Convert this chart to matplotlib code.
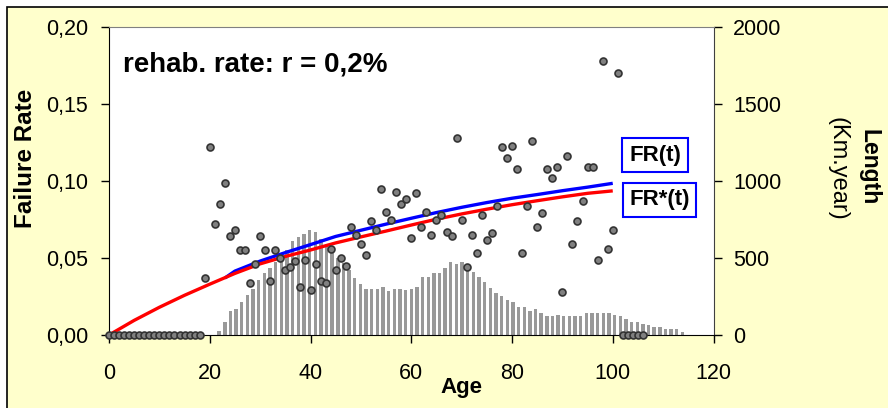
"""
Failure rate vs age for the network, with rehabilitation rate r = 0.2%.
Scatter = observed failure rate per age, curves = FR(t) and FR*(t),
grey bars = pipe length per age class (secondary axis).
"""

import numpy as np
import matplotlib
matplotlib.use("Agg")
import matplotlib.pyplot as plt
from matplotlib.patches import Rectangle

plt.rcParams["font.family"] = ["Liberation Sans", "DejaVu Sans"]

# --- observed failure rate per age ---
obs_age = np.arange(0, 107)
obs_fr = [0.0] * 19 + [
    0.037, 0.122, 0.072, 0.085, 0.099, 0.064, 0.068, 0.055, 0.055, 0.034,
    0.046, 0.064, 0.055, 0.035, 0.055, 0.050, 0.042, 0.044, 0.048, 0.031,
    0.049, 0.029, 0.046, 0.035, 0.034, 0.056, 0.042, 0.050, 0.045, 0.070,
    0.065, 0.059, 0.052, 0.074, 0.068, 0.095, 0.080, 0.075, 0.093, 0.085,
    0.088, 0.063, 0.092, 0.070, 0.080, 0.065, 0.075, 0.078, 0.067, 0.064,
    0.128, 0.075, 0.044, 0.065, 0.053, 0.078, 0.062, 0.066, 0.084, 0.122,
    0.115, 0.123, 0.108, 0.053, 0.084, 0.126, 0.070, 0.079, 0.108, 0.102,
    0.109, 0.028, 0.116, 0.059, 0.074, 0.087, 0.109, 0.109, 0.049, 0.178,
    0.056, 0.068, 0.170,
] + [0.0] * 5

# --- model curves ---
frs_age = [0, 5, 10, 15, 20, 25, 30, 35, 40, 45, 50, 55, 60, 65, 70, 75, 80, 85, 90, 95, 100]
frs_val = [0.000, 0.0095, 0.0180, 0.0258, 0.033, 0.040, 0.0462, 0.051, 0.0552, 0.0598, 0.0637,
           0.0675, 0.0714, 0.0752, 0.0786, 0.0817, 0.0846, 0.0872, 0.0897, 0.0920, 0.0936]
fr_age = [23, 25, 30, 35, 40, 45, 50, 55, 60, 65, 70, 75, 80, 85, 90, 95, 100]
fr_val = [0.037, 0.0415, 0.048, 0.0535, 0.0587, 0.0640, 0.0680, 0.0720, 0.0758, 0.0795,
          0.0829, 0.0860, 0.0888, 0.0912, 0.0937, 0.0960, 0.0985]

# --- length per age class (secondary category axis, 107 classes) ---
n_classes = 107
len_class = np.arange(19, 102)
len_km = [
    27, 85, 158, 169, 214, 262, 297, 354, 402, 438,
    477, 514, 550, 611, 635, 658, 682, 669, 624, 585,
    542, 499, 466, 423, 367, 332, 298, 298, 298, 309,
    285, 298, 298, 290, 298, 310, 378, 378, 401, 401,
    436, 472, 461, 472, 452, 412, 378, 342, 304, 273,
    253, 227, 214, 181, 181, 159, 169, 143, 122, 122,
    132, 123, 124, 124, 124, 145, 145, 145, 145, 145,
    132, 122, 105, 86, 86, 74, 63, 53, 53, 40,
    40, 40, 18,
]

W, H = 888, 408
fig = plt.figure(figsize=(W / 100, H / 100), dpi=100, facecolor="white")
fig.patches.append(Rectangle((7 / W, -0.05), 1.1, 1 - 7 / H + 0.05, transform=fig.transFigure,
                             facecolor="#FFFFCC", edgecolor="black", lw=1.2, zorder=-5))

pos = [109 / W, 1 - 335 / H, (713.5 - 109) / W, (335 - 27) / H]

# back axes: bars + right axis
axb = fig.add_axes(pos, facecolor="white", zorder=1)
axb.bar(len_class, len_km, width=0.6, color="#999999", edgecolor="none")
axb.set_xlim(-0.5, n_classes - 0.5)
axb.set_ylim(0, 2000)
axb.set_xticks([])
axb.yaxis.tick_right()
axb.set_yticks([0, 500, 1000, 1500, 2000])
axb.tick_params(axis="y", labelsize=15.5, length=6, width=1, pad=8, direction="out")
for s in ["left", "top", "bottom"]:
    axb.spines[s].set_visible(False)
axb.spines["right"].set_color("#404040")

# front axes: failure rate
ax = fig.add_axes(pos, facecolor="none", zorder=2)
ax.plot(fr_age, fr_val, color="#0000FF", lw=2.4, solid_capstyle="butt", zorder=3)
ax.plot(frs_age, frs_val, color="#FF0000", lw=2.4, solid_capstyle="butt", zorder=4)
ax.plot(obs_age, obs_fr, ls="none", marker="o", ms=5, mfc="#808080", mec="#333333",
        mew=1.2, zorder=5, clip_on=False)
ax.set_xlim(0, 120)
ax.set_ylim(0, 0.2)
ax.set_xticks(range(0, 121, 20))
ax.set_yticks([0, 0.05, 0.10, 0.15, 0.20])
ax.set_yticklabels(["0,00", "0,05", "0,10", "0,15", "0,20"])
ax.tick_params(axis="y", labelsize=15.5, length=6, width=1, pad=9, direction="out")
ax.tick_params(axis="x", labelsize=15.5, length=6, width=1, pad=14, direction="out")
ax.spines["right"].set_visible(False)
ax.spines["top"].set_color("#808080")

def fx(px):
    return px / W

def fy(py):
    return 1 - py / H

fig.text(fx(123), fy(72), "rehab. rate: r = 0,2%", fontsize=20, fontweight="bold",
         ha="left", va="baseline", zorder=6)
fig.text(fx(26), fy(158), "Failure Rate", fontsize=17.5, fontweight="bold",
         rotation=90, ha="center", va="center")
fig.text(fx(461), fy(387), "Age", fontsize=16, fontweight="bold", ha="center", va="center")
fig.text(fx(869), fy(167), "Length", fontsize=16.5, fontweight="bold",
         rotation=270, ha="center", va="center")
fig.text(fx(837), fy(169), "(Km.year)", fontsize=17, rotation=270, ha="center", va="center")

box = dict(boxstyle="square,pad=0.3", facecolor="white", edgecolor="#0000FF", lw=1.5)
fig.text(fx(655), fy(155), "FR(t)", fontsize=16, fontweight="bold",
         ha="center", va="center", bbox=box, zorder=6)
fig.text(fx(659.5), fy(200), "FR*(t)", fontsize=16, fontweight="bold",
         ha="center", va="center", bbox=box, zorder=6)

fig.savefig("out.png", dpi=100, facecolor=fig.get_facecolor())
